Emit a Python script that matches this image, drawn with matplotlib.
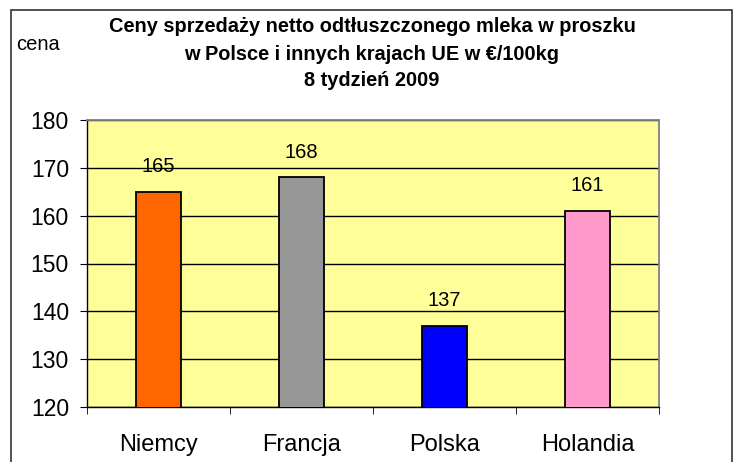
import matplotlib
matplotlib.use("Agg")
import matplotlib.pyplot as plt
from matplotlib.patches import Rectangle
import numpy as np

plt.rcParams["font.family"] = ["Liberation Sans", "DejaVu Sans"]

countries = ["Niemcy", "Francja", "Polska", "Holandia"]
prices = [165, 168, 137, 161]
bar_colors = ["#FF6600", "#969696", "#0000FF", "#FF99CC"]
y_ticks = [120, 130, 140, 150, 160, 170, 180]
title_lines = ["Ceny sprzedaży netto odtłuszczonego mleka w proszku",
               "w Polsce i innych krajach UE w €/100kg",
               "8 tydzień 2009"]

fig = plt.figure(figsize=(7.38, 4.62), dpi=100)
fig.patch.set_facecolor("white")

# ramka wykresu (styl Excel)
fig.patches.append(Rectangle((11 / 738, -0.02), (732 - 11) / 738, 1 - 10 / 462 + 0.02,
                             transform=fig.transFigure, fill=False,
                             edgecolor="#333333", linewidth=1.2))

ax = fig.add_axes([87 / 738, 1 - 407 / 462, (659 - 87) / 738, (407 - 120) / 462])
ax.set_facecolor("#FFFF99")

x = np.arange(len(countries))
ax.bar(x, prices, width=0.32, bottom=0, color=bar_colors, edgecolor="black",
       linewidth=1.3, zorder=3)

for xi, v in zip(x, prices):
    ax.annotate(str(v), (xi, v), xytext=(0, 18), textcoords="offset points",
                ha="center", va="center", fontsize=14.5, zorder=4)

ax.set_xlim(-0.5, len(countries) - 0.5)
ax.set_ylim(120, 180)
ax.set_yticks(y_ticks)
ax.yaxis.grid(True, color="black", linewidth=1)
ax.set_axisbelow(True)

ax.set_xticks(x)
ax.set_xticklabels(countries, fontsize=17)
ax.set_xticks(np.arange(-0.5, len(countries), 1), minor=True)
ax.tick_params(axis="x", which="major", length=0, pad=19.5)
ax.tick_params(axis="x", which="minor", length=5, direction="out", color="black")
ax.tick_params(axis="y", labelsize=16.5, length=5, direction="out", color="black", pad=8)

for side in ("top", "right"):
    ax.spines[side].set_color("#808080")
    ax.spines[side].set_linewidth(1.3)
for side in ("left", "bottom"):
    ax.spines[side].set_color("black")
    ax.spines[side].set_linewidth(1)

for line, yc in zip(title_lines, [27, 54, 81]):
    fig.text(372 / 738, 1 - yc / 462, line, ha="center", va="center",
             fontsize=14.4, fontweight="bold")
fig.text(16 / 738, 1 - 45 / 462, "cena", ha="left", va="center", fontsize=14.5)

fig.savefig("out.png", dpi=100)
